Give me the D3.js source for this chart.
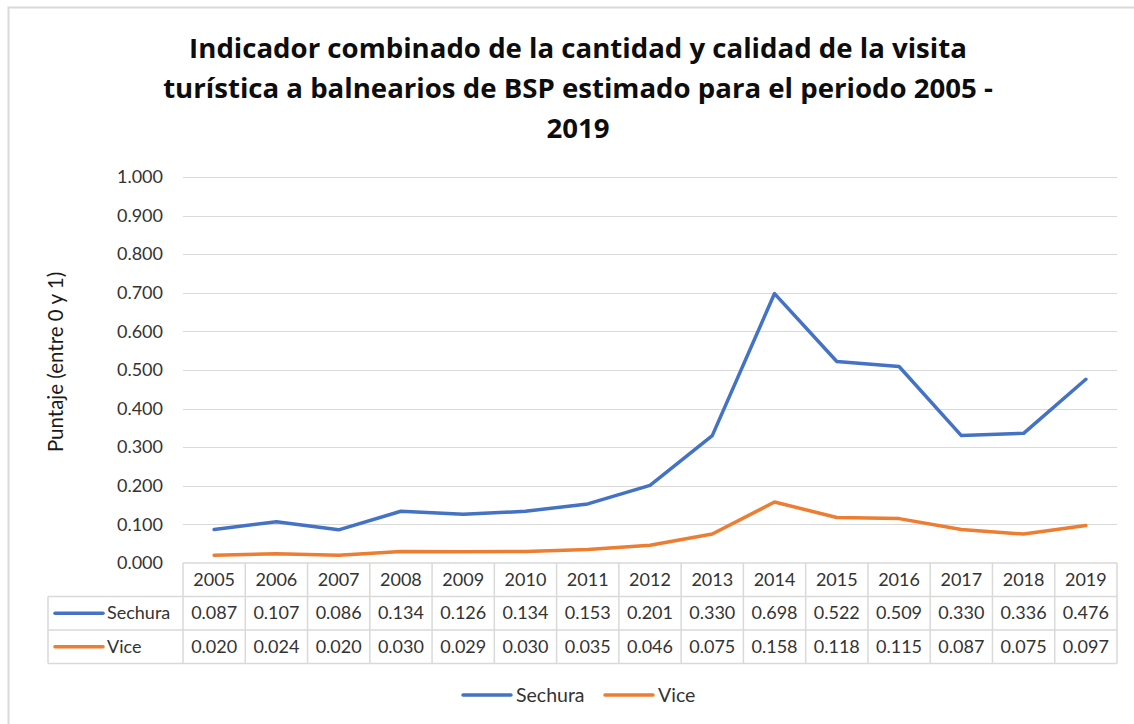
<!DOCTYPE html>
<html>
<head>
<meta charset="utf-8">
<script src="https://cdn.jsdelivr.net/npm/d3@7"></script>
<style>
  body { margin: 0; background: #fff; }
  text { font-family: Lato, "Open Sans", sans-serif; fill: #333; }
</style>
</head>
<body>
<div id="chart"></div>
<script>
var years = ["2005","2006","2007","2008","2009","2010","2011","2012","2013","2014","2015","2016","2017","2018","2019"];
var sechura = [0.087,0.107,0.086,0.134,0.126,0.134,0.153,0.201,0.330,0.698,0.522,0.509,0.330,0.336,0.476];
var vice = [0.020,0.024,0.020,0.030,0.029,0.030,0.035,0.046,0.075,0.158,0.118,0.115,0.087,0.075,0.097];
var yTicks = [0,0.1,0.2,0.3,0.4,0.5,0.6,0.7,0.8,0.9,1.0];
var titleLines = ["Indicador combinado de la cantidad y calidad de la visita",
                  "turística a balnearios de BSP estimado para el periodo 2005 -",
                  "2019"];

var series = [
  { name: "Sechura", values: sechura, color: "#4472C4" },
  { name: "Vice", values: vice, color: "#ED7D31" }
];

var W = 1134, H = 724;
var plotL = 183, plotR = 1117, plotT = 177, plotB = 563;
var rowH = 33.5, legendLeft = 48;
var fs = 18;

var svg = d3.select("#chart").append("svg").attr("width", W).attr("height", H);

// chart frame
svg.append("path").attr("d", "M8.5," + H + "V7.5H" + W)
  .attr("fill", "none").attr("stroke", "#d9d9d9").attr("stroke-width", 2);

// title
svg.append("g").selectAll("text").data(titleLines).enter().append("text")
  .attr("x", 578).attr("y", function(d, i) { return 58 + i * 40; })
  .attr("text-anchor", "middle").attr("font-size", 27.6).attr("font-weight", "bold")
  .style("font-family", "'Open Sans', sans-serif")
  .style("fill", "#0d0d0d").text(function(d) { return d; });

var x = d3.scaleBand().domain(years).range([plotL, plotR]);
var y = d3.scaleLinear().domain([0, 1]).range([plotB, plotT]);

// gridlines
svg.append("g").selectAll("line").data(yTicks.slice(1)).enter().append("line")
  .attr("x1", plotL).attr("x2", plotR)
  .attr("y1", function(d) { return Math.round(y(d)) + 0.5; })
  .attr("y2", function(d) { return Math.round(y(d)) + 0.5; })
  .attr("stroke", "#d9d9d9").attr("stroke-width", 1);

// y axis labels
var yAxis = svg.append("g").attr("transform", "translate(" + (plotL - 8) + ",0)")
  .call(d3.axisLeft(y).tickValues(yTicks).tickFormat(d3.format(".3f")).tickSize(0).tickPadding(12));
yAxis.select(".domain").remove();
yAxis.selectAll("text").attr("font-size", fs).style("font-family", "Lato, sans-serif").style("fill", "#333");

// y title
svg.append("text").attr("transform", "translate(63,362) rotate(-90)")
  .attr("text-anchor", "middle").attr("font-size", 20.5).style("fill", "#1a1a1a")
  .text("Puntaje (entre 0 y 1)");

// lines
var line = d3.line()
  .x(function(d, i) { return x(years[i]) + x.bandwidth() / 2; })
  .y(function(d) { return y(d); });

svg.append("g").selectAll("path").data(series).enter().append("path")
  .attr("d", function(d) { return line(d.values); })
  .attr("fill", "none").attr("stroke", function(d) { return d.color; })
  .attr("stroke-width", 3.5).attr("stroke-linejoin", "round").attr("stroke-linecap", "round");

// data table
var tbl = svg.append("g");
var gridC = "#d9d9d9";
[0, 1, 2, 3].forEach(function(r) {
  tbl.append("line")
    .attr("x1", r === 0 ? plotL : legendLeft).attr("x2", plotR)
    .attr("y1", plotB + r * rowH).attr("y2", plotB + r * rowH)
    .attr("stroke", gridC).attr("stroke-width", 1.5);
});
years.concat(["end"]).forEach(function(d, i) {
  var xx = i < years.length ? x(d) : plotR;
  tbl.append("line").attr("x1", xx).attr("x2", xx)
    .attr("y1", plotB).attr("y2", plotB + 3 * rowH)
    .attr("stroke", gridC).attr("stroke-width", 1.5);
});
tbl.append("line").attr("x1", legendLeft).attr("x2", legendLeft)
  .attr("y1", plotB + rowH).attr("y2", plotB + 3 * rowH)
  .attr("stroke", gridC).attr("stroke-width", 1.5);

// year header
tbl.selectAll("text.yr").data(years).enter().append("text").attr("class", "yr")
  .attr("x", function(d) { return x(d) + x.bandwidth() / 2; })
  .attr("y", plotB + rowH / 2 + 6).attr("text-anchor", "middle").attr("font-size", fs)
  .text(function(d) { return d; });

// series rows
series.forEach(function(s, r) {
  var cy = plotB + rowH * (r + 1) + rowH / 2;
  tbl.append("line").attr("x1", 55).attr("x2", 103).attr("y1", cy).attr("y2", cy)
    .attr("stroke", s.color).attr("stroke-width", 3.5).attr("stroke-linecap", "round");
  tbl.append("text").attr("x", 107).attr("y", cy + 6).attr("font-size", fs).text(s.name);
  tbl.selectAll("text.v" + r).data(s.values).enter().append("text").attr("class", "v" + r)
    .attr("x", function(d, i) { return x(years[i]) + x.bandwidth() / 2; })
    .attr("y", cy + 6).attr("text-anchor", "middle").attr("font-size", fs)
    .text(function(d) { return d3.format(".3f")(d); });
});

// legend
var leg = svg.append("g");
var legX = [463, 605];
series.forEach(function(s, i) {
  leg.append("line").attr("x1", legX[i]).attr("x2", legX[i] + 48).attr("y1", 695).attr("y2", 695)
    .attr("stroke", s.color).attr("stroke-width", 3.5).attr("stroke-linecap", "round");
  leg.append("text").attr("x", legX[i] + 53).attr("y", 702).attr("font-size", 19.5).text(s.name);
});
</script>
</body>
</html>
